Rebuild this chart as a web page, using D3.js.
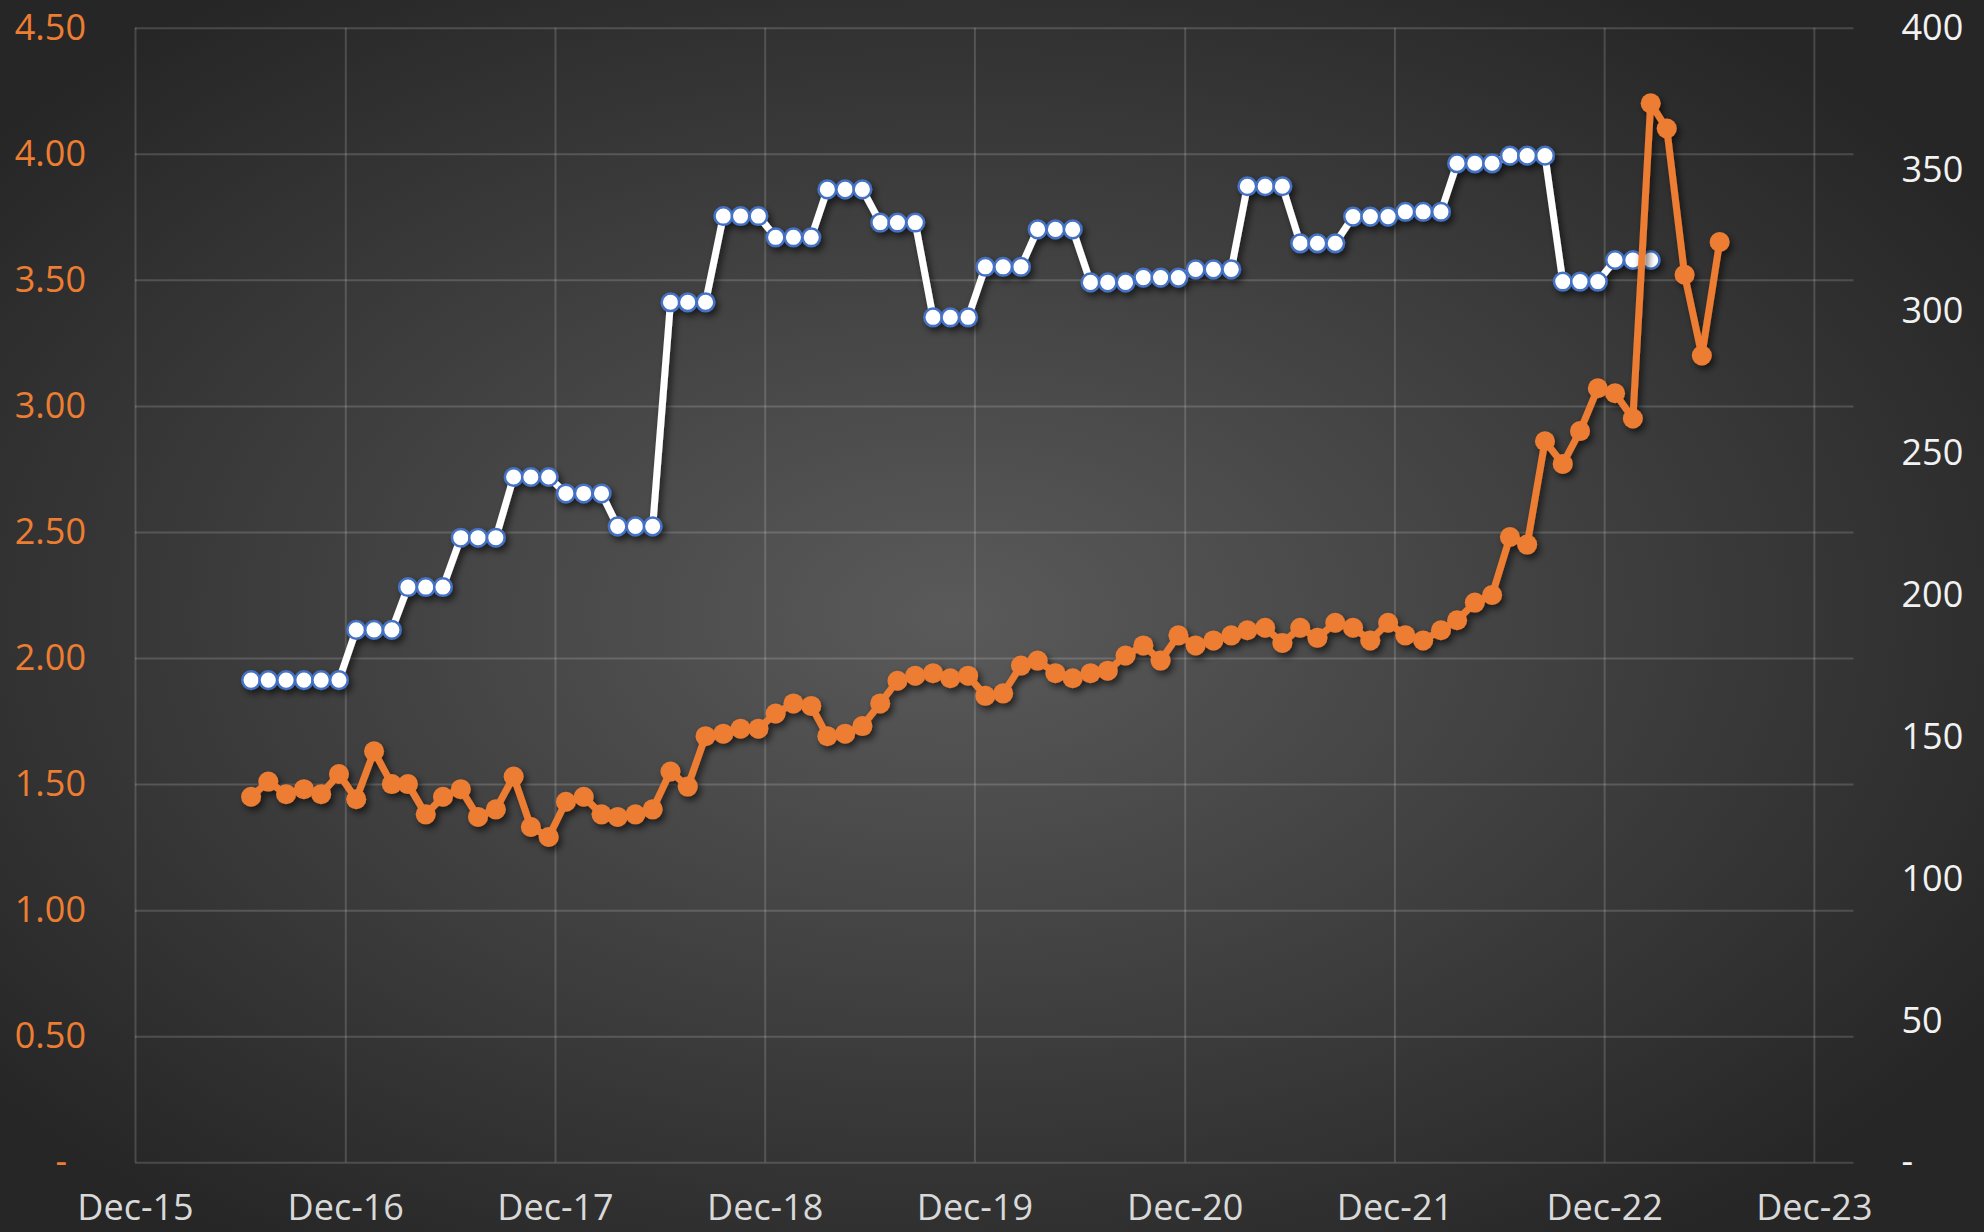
<!DOCTYPE html>
<html>
<head>
<meta charset="utf-8">
<script src="https://cdn.jsdelivr.net/npm/d3@7"></script>
<style>
    html, body { margin: 0; padding: 0; background: #2a2a2a; }
    svg { display: block; font-family: "Open Sans", sans-serif; }
</style>
</head>
<body>
<div id="chart-container"></div>
<script>
// months of the observations (one point per month)
const MONTHS = [
    "2016-06", "2016-07", "2016-08", "2016-09", "2016-10", "2016-11", "2016-12",
    "2017-01", "2017-02", "2017-03", "2017-04", "2017-05", "2017-06", "2017-07", "2017-08", "2017-09", "2017-10", "2017-11", "2017-12",
    "2018-01", "2018-02", "2018-03", "2018-04", "2018-05", "2018-06", "2018-07", "2018-08", "2018-09", "2018-10", "2018-11", "2018-12",
    "2019-01", "2019-02", "2019-03", "2019-04", "2019-05", "2019-06", "2019-07", "2019-08", "2019-09", "2019-10", "2019-11", "2019-12",
    "2020-01", "2020-02", "2020-03", "2020-04", "2020-05", "2020-06", "2020-07", "2020-08", "2020-09", "2020-10", "2020-11", "2020-12",
    "2021-01", "2021-02", "2021-03", "2021-04", "2021-05", "2021-06", "2021-07", "2021-08", "2021-09", "2021-10", "2021-11", "2021-12",
    "2022-01", "2022-02", "2022-03", "2022-04", "2022-05", "2022-06", "2022-07", "2022-08", "2022-09", "2022-10", "2022-11", "2022-12",
    "2023-01", "2023-02", "2023-03", "2023-04", "2023-05", "2023-06",
];

// orange series (left axis)
const RATE = [
    1.45, 1.51, 1.46, 1.48, 1.46, 1.54, 1.44, 1.63, 1.50, 1.50,
    1.38, 1.45, 1.48, 1.37, 1.40, 1.53, 1.33, 1.29, 1.43, 1.45,
    1.38, 1.37, 1.38, 1.40, 1.55, 1.49, 1.69, 1.70, 1.72, 1.72,
    1.78, 1.82, 1.81, 1.69, 1.70, 1.73, 1.82, 1.91, 1.93, 1.94,
    1.92, 1.93, 1.85, 1.86, 1.97, 1.99, 1.94, 1.92, 1.94, 1.95,
    2.01, 2.05, 1.99, 2.09, 2.05, 2.07, 2.09, 2.11, 2.12, 2.06,
    2.12, 2.08, 2.14, 2.12, 2.07, 2.14, 2.09, 2.07, 2.11, 2.15,
    2.22, 2.25, 2.48, 2.45, 2.86, 2.77, 2.90, 3.07, 3.05, 2.95,
    4.20, 4.10, 3.52, 3.20, 3.65,
];

// white series (right axis), ends Feb-23
const PRICE = [
    170, 170, 170, 170, 170, 170, 187.7, 187.7, 187.7, 202.8,
    202.8, 202.8, 220.2, 220.2, 220.2, 241.6, 241.6, 241.6, 235.8, 235.8,
    235.8, 224.2, 224.2, 224.2, 303.2, 303.2, 303.2, 333.6, 333.6, 333.6,
    326.1, 326.1, 326.1, 343.0, 343.0, 343.0, 331.3, 331.3, 331.3, 297.9,
    297.9, 297.9, 315.7, 315.7, 315.7, 328.9, 328.9, 328.9, 310.2, 310.2,
    310.2, 311.9, 311.9, 311.9, 314.8, 314.8, 314.8, 344.1, 344.1, 344.1,
    324.0, 324.0, 324.0, 333.4, 333.4, 333.4, 335.1, 335.1, 335.1, 352.2,
    352.2, 352.2, 354.9, 354.9, 354.9, 310.5, 310.5, 310.5, 318.1, 318.1,
    318.1,
];

// axis ticks
const LEFT_TICKS = [0, 0.5, 1, 1.5, 2, 2.5, 3, 3.5, 4, 4.5];
const RIGHT_TICKS = [0, 50, 100, 150, 200, 250, 300, 350, 400];
const YEAR_TICKS = ["2015-12-01", "2016-12-01", "2017-12-01", "2018-12-01", "2019-12-01",
    "2020-12-01", "2021-12-01", "2022-12-01", "2023-12-01"];

function drawChart() {
    const W = 1984, H = 1232;
    const plot = { left: 135, right: 1853.5, top: 27.7, bottom: 1162.3 };
    const FONT = "'Open Sans', sans-serif";

    const parseDay = d3.timeParse("%Y-%m-%d");
    const dates = MONTHS.map(m => parseDay(m + "-20"));
    const yearTicks = YEAR_TICKS.map(parseDay);

    const svg = d3.select("#chart-container")
        .append("svg")
        .attr("width", W)
        .attr("height", H);

    const defs = svg.append("defs");

    // dark radial background
    const grad = defs.append("radialGradient")
        .attr("id", "bg")
        .attr("cx", "48%").attr("cy", "50%").attr("r", "62%");
    grad.append("stop").attr("offset", "0%").attr("stop-color", "#5a5a5a");
    grad.append("stop").attr("offset", "100%").attr("stop-color", "#262626");

    // soft shadow under the lines
    defs.append("filter")
        .attr("id", "shadow")
        .attr("x", "-10%").attr("y", "-10%").attr("width", "120%").attr("height", "120%")
        .append("feDropShadow")
        .attr("dx", 3).attr("dy", 4).attr("stdDeviation", 3.5)
        .attr("flood-color", "#000").attr("flood-opacity", 0.6);

    svg.append("rect")
        .attr("width", W).attr("height", H)
        .attr("fill", "url(#bg)");

    // scales
    const x = d3.scaleTime()
        .domain([parseDay("2015-12-01"), parseDay("2024-02-08")])
        .range([plot.left, plot.right]);

    const yLeft = d3.scaleLinear()
        .domain([0, 4.5])
        .range([plot.bottom, plot.top]);

    const yRight = d3.scaleLinear()
        .domain([0, 400])
        .range([plot.bottom, plot.top]);

    const gridColor = "rgba(255,255,255,0.16)";

    // horizontal grid + left labels
    const leftAxis = svg.append("g")
        .attr("transform", `translate(${plot.left},0)`)
        .call(d3.axisLeft(yLeft)
            .tickValues(LEFT_TICKS)
            .tickSize(-(plot.right - plot.left))
            .tickPadding(49)
            .tickFormat(d => d === 0 ? "-" : d.toFixed(2)))
        .attr("font-family", FONT);
    leftAxis.select(".domain").remove();
    leftAxis.selectAll("line").attr("stroke", gridColor).attr("stroke-width", 2);
    leftAxis.selectAll("text")
        .attr("fill", "#ED7D31")
        .attr("font-size", 36)
        .attr("dx", d => d === 0 ? -19 : 0);

    // vertical grid + date labels
    const bottomAxis = svg.append("g")
        .attr("transform", `translate(0,${plot.bottom})`)
        .call(d3.axisBottom(x)
            .tickValues(yearTicks)
            .tickSize(-(plot.bottom - plot.top))
            .tickPadding(32)
            .tickFormat(d3.timeFormat("%b-%y")))
        .attr("font-family", FONT);
    bottomAxis.select(".domain").remove();
    bottomAxis.selectAll("line").attr("stroke", gridColor).attr("stroke-width", 2);
    bottomAxis.selectAll("text")
        .attr("fill", "#d9d9d9")
        .attr("font-size", 36);

    // right labels (no grid)
    const rightAxis = svg.append("g")
        .attr("transform", `translate(${plot.right},0)`)
        .call(d3.axisRight(yRight)
            .tickValues(RIGHT_TICKS)
            .tickSize(0)
            .tickPadding(48)
            .tickFormat(d => d === 0 ? "-" : d))
        .attr("font-family", FONT);
    rightAxis.select(".domain").remove();
    rightAxis.selectAll("text")
        .attr("fill", "#f2f2f2")
        .attr("font-size", 36);

    // white series
    const priceData = PRICE.map((v, i) => ({ date: dates[i], value: v }));
    const priceLine = d3.line()
        .x(d => x(d.date))
        .y(d => yRight(d.value));

    const gPrice = svg.append("g").attr("filter", "url(#shadow)");
    gPrice.append("path")
        .datum(priceData)
        .attr("d", priceLine)
        .attr("fill", "none")
        .attr("stroke", "#ffffff")
        .attr("stroke-width", 7)
        .attr("stroke-linejoin", "round");
    gPrice.selectAll("circle")
        .data(priceData)
        .enter()
        .append("circle")
        .attr("cx", d => x(d.date))
        .attr("cy", d => yRight(d.value))
        .attr("r", 8.8)
        .attr("fill", "#ffffff")
        .attr("stroke", "#4472C4")
        .attr("stroke-width", 2.5);

    // orange series
    const rateData = RATE.map((v, i) => ({ date: dates[i], value: v }));
    const rateLine = d3.line()
        .x(d => x(d.date))
        .y(d => yLeft(d.value));

    const gRate = svg.append("g").attr("filter", "url(#shadow)");
    gRate.append("path")
        .datum(rateData)
        .attr("d", rateLine)
        .attr("fill", "none")
        .attr("stroke", "#ED7D31")
        .attr("stroke-width", 7)
        .attr("stroke-linejoin", "round");
    gRate.selectAll("circle")
        .data(rateData)
        .enter()
        .append("circle")
        .attr("cx", d => x(d.date))
        .attr("cy", d => yLeft(d.value))
        .attr("r", 10)
        .attr("fill", "#ED7D31");
}

window.onload = () => {
    drawChart();
};
</script>
</body>
</html>
